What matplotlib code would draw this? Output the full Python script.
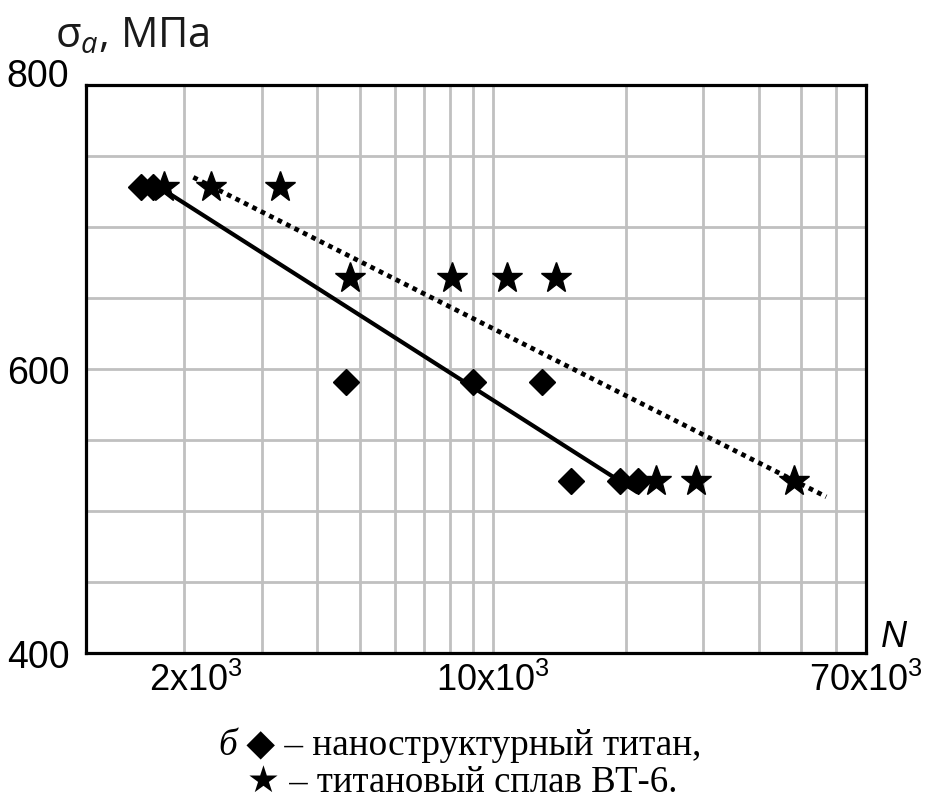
import matplotlib
matplotlib.use("Agg")
import matplotlib.pyplot as plt
from matplotlib.ticker import FixedLocator, NullLocator
from matplotlib.transforms import ScaledTranslation

plt.rcParams['mathtext.fontset'] = 'custom'
plt.rcParams['mathtext.rm'] = 'Open Sans'
plt.rcParams['mathtext.it'] = 'Open Sans:italic'
plt.rcParams['mathtext.default'] = 'regular'

# ---- data ----
diam_N = [1600, 1700, 4650, 9000, 12900, 15000, 19400, 21300]
diam_S = [728, 728, 591, 591, 591, 521, 521, 521]
star_N = [1800, 2300, 3300, 4750, 8100, 10750, 13900, 23400, 28900, 48200]
star_S = [728, 728, 728, 664, 664, 664, 664, 521, 521, 521]
fit1_N = [1800, 21300]
fit1_S = [726, 513]
fit2_N = [2100, 56900]
fit2_S = [735, 510]

x_grid = [2000, 3000, 4000, 5000, 6000, 7000, 8000, 9000, 10000,
          20000, 30000, 40000, 50000, 60000, 70000]
x_labels = {2000: r'2x10$^{3}$', 10000: r'10x10$^{3}$', 70000: r'70x10$^{3}$'}
y_grid = [400, 450, 500, 550, 600, 650, 700, 750, 800]
y_labels = {400: '400', 600: '600', 800: '800'}

fig = plt.figure(figsize=(9.33, 8.03), dpi=100)
ax = fig.add_axes([86/933, 1-654/803, (866-86)/933, (654-86)/803])
ax.set_xscale('log')
ax.set_xlim(1200, 70000)
ax.set_ylim(400, 800)

ax.xaxis.set_major_locator(FixedLocator(x_grid))
ax.xaxis.set_minor_locator(NullLocator())
ax.set_xticklabels([x_labels.get(v, '') for v in x_grid])
ax.yaxis.set_major_locator(FixedLocator(y_grid))
ax.set_yticklabels([y_labels.get(v, '') for v in y_grid])
ax.tick_params(length=0)
ax.tick_params(axis='x', pad=6, labelsize=26)
ax.tick_params(axis='y', pad=12, labelsize=27)
for lab in ax.get_xticklabels() + ax.get_yticklabels():
    lab.set_family('Liberation Sans')
# label offsets as in the reference
for lab, v in zip(ax.get_yticklabels(), y_grid):
    if v == 800:
        lab.set_transform(lab.get_transform() + ScaledTranslation(0, 9/72, fig.dpi_scale_trans))
for lab, v in zip(ax.get_xticklabels(), x_grid):
    if v == 2000:
        lab.set_transform(lab.get_transform() + ScaledTranslation(12/100, 0, fig.dpi_scale_trans))

ax.grid(True, color='#c0c0c0', lw=2.0)
ax.set_axisbelow(True)
for sp in ax.spines.values():
    sp.set_linewidth(2.3)
    sp.set_color('black')

ax.plot(fit1_N, fit1_S, color='black', lw=3.0, solid_capstyle='butt', zorder=3)
ax.plot(fit2_N, fit2_S, color='black', lw=3.4, linestyle=(0, (1.0, 1.0)), zorder=3)
ax.plot(diam_N, diam_S, linestyle='none', marker='D', ms=13.5, color='black', zorder=4)
ax.plot(star_N, star_S, linestyle='none', marker='*', ms=23, color='black', zorder=4)

# axis titles
fig.text(55/933, 1-47/803, r'σ$_{\mathit{a}}$, МПа', fontsize=30, family='Open Sans',
         ha='left', va='baseline', color='#1a1a1a')
fig.text(894/933, 1-647/803, 'N', fontsize=26, family='Liberation Sans', style='italic',
         ha='center', va='baseline')

# caption
serif = ['Liberation Serif', 'DejaVu Serif', 'DejaVu Sans']
t1 = fig.text(218/933, 1-755/803, 'б', fontsize=26.8, family=serif, style='italic',
              ha='left', va='baseline')
ax.annotate(' ◆ – наноструктурный титан,', xy=(1, 0), xycoords=t1,
            ha='left', va='bottom', fontsize=26.8, family=serif, annotation_clip=False)
fig.text(247/933, 1-792/803, '★ – титановый сплав ВТ-6.', fontsize=26.5, family=serif,
         ha='left', va='baseline')

fig.savefig('out.png', dpi=100)
